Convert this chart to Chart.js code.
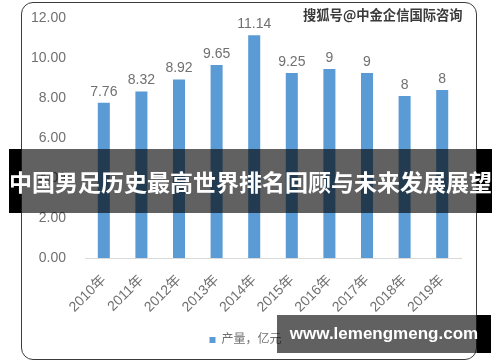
<!DOCTYPE html>
<html lang="zh">
<head>
  <meta charset="UTF-8">
  <title>产量</title>
  <script src="https://cdn.jsdelivr.net/npm/chart.js"></script>
  <style>
    body { margin: 0; padding: 0; background: #fff; }
    .wrap { position: relative; width: 500px; height: 362px; overflow: hidden; }
    canvas { position: absolute; left: 0; top: 0; }
    .frame {
      position: absolute; left: 21px; top: 2px; width: 454px; height: 356px;
      border: 1.5px solid #3c3c3c; border-radius: 12px; pointer-events: none;
    }
    .mark {
      position: absolute; left: 303px; top: 6px;
      font-family: "Noto Sans CJK SC", sans-serif; font-size: 13.3px; font-weight: 700;
      color: #3a3a3a; line-height: 18px; white-space: nowrap;
      text-shadow: 0 0 1px #fff;
    }
    .band-black { position: absolute; background: #000; }
    .band-grey { position: absolute; background: rgba(0, 0, 0, 0.62); }
    .title {
      position: absolute; left: 9px; top: 149px; width: 483px; height: 64px;
      font-family: "Noto Sans CJK SC", sans-serif; font-size: 23px; font-weight: 700;
      color: #fff; line-height: 64px; text-align: center; white-space: nowrap;
    }
    .site {
      position: absolute; left: 277px; top: 315px; width: 214px; height: 38px;
      font-family: "Liberation Sans", Arial, sans-serif; font-size: 17px; font-weight: 700;
      color: #fff; line-height: 38px; text-align: center; white-space: nowrap;
    }
  </style>
</head>
<body>
  <div class="wrap">
    <canvas id="chart" width="500" height="362"></canvas>
    <div class="frame"></div>
    <div class="mark">搜狐号@中金企信国际咨询</div>

    <div class="band-black" style="left:9px; top:149px; width:12px; height:64px;"></div>
    <div class="band-grey" style="left:21px; top:149px; width:456px; height:64px;"></div>
    <div class="band-black" style="left:477px; top:149px; width:15px; height:64px;"></div>
    <div class="title">中国男足历史最高世界排名回顾与未来发展展望</div>

    <div class="band-grey" style="left:277px; top:315px; width:200px; height:38px;"></div>
    <div class="band-black" style="left:477px; top:315px; width:14px; height:38px;"></div>
    <div class="site">www.lemengmeng.com</div>
  </div>

  <script>
    // values
    const years = ["2010年", "2011年", "2012年", "2013年", "2014年", "2015年", "2016年", "2017年", "2018年", "2019年"];
    const output = [7.76, 8.32, 8.92, 9.65, 11.14, 9.25, 9.45, 9.25, 8.1, 8.4];
    const valueLabels = ["7.76", "8.32", "8.92", "9.65", "11.14", "9.25", "9", "9", "8", "8"];
    const seriesName = "产量，亿元";
    const yTicks = [0, 2, 4, 6, 8, 10, 12];

    const textColor = "#707070";
    const fontFamily = "'Liberation Sans', 'Noto Sans CJK SC', sans-serif";

    // value labels above each bar
    const barLabels = {
      id: "barLabels",
      afterDatasetsDraw(chart) {
        const ctx = chart.ctx;
        const meta = chart.getDatasetMeta(0);
        ctx.save();
        ctx.font = "14px " + fontFamily;
        ctx.fillStyle = textColor;
        ctx.textAlign = "center";
        ctx.textBaseline = "bottom";
        meta.data.forEach((bar, i) => {
          ctx.fillText(valueLabels[i], bar.x, bar.y - 4);
        });
        ctx.restore();
      }
    };

    new Chart(document.getElementById("chart"), {
      type: "bar",
      data: {
        labels: years,
        datasets: [{
          label: seriesName,
          data: output,
          backgroundColor: "#5b9bd5",
          categoryPercentage: 1,
          barPercentage: 0.32
        }]
      },
      options: {
        responsive: false,
        devicePixelRatio: 1,
        animation: false,
        layout: { padding: { left: 30, right: 39, top: 18, bottom: 6 } },
        scales: {
          x: {
            grid: { display: false, drawTicks: false },
            border: { display: true, color: "#d9d9d9", width: 1 },
            ticks: {
              color: textColor,
              font: { family: fontFamily, size: 14 },
              minRotation: 45,
              maxRotation: 45,
              padding: 14
            },
            afterFit(scale) { scale.height = 72; }
          },
          y: {
            min: 0,
            max: 12,
            grid: { display: false, drawTicks: false },
            border: { display: false },
            afterBuildTicks(scale) { scale.ticks = yTicks.map(v => ({ value: v })); },
            ticks: {
              color: textColor,
              font: { family: fontFamily, size: 14 },
              padding: 19,
              callback: v => v.toFixed(2)
            },
            afterFit(scale) {
              scale.width = 55;
              scale.paddingTop = 0;
              scale.paddingBottom = 0;
            }
          }
        },
        plugins: {
          legend: {
            position: "bottom",
            labels: {
              color: textColor,
              font: { family: fontFamily, size: 12 },
              boxWidth: 6,
              boxHeight: 6,
              padding: 4
            }
          },
          tooltip: { enabled: false }
        }
      },
      plugins: [barLabels]
    });
  </script>
</body>
</html>
